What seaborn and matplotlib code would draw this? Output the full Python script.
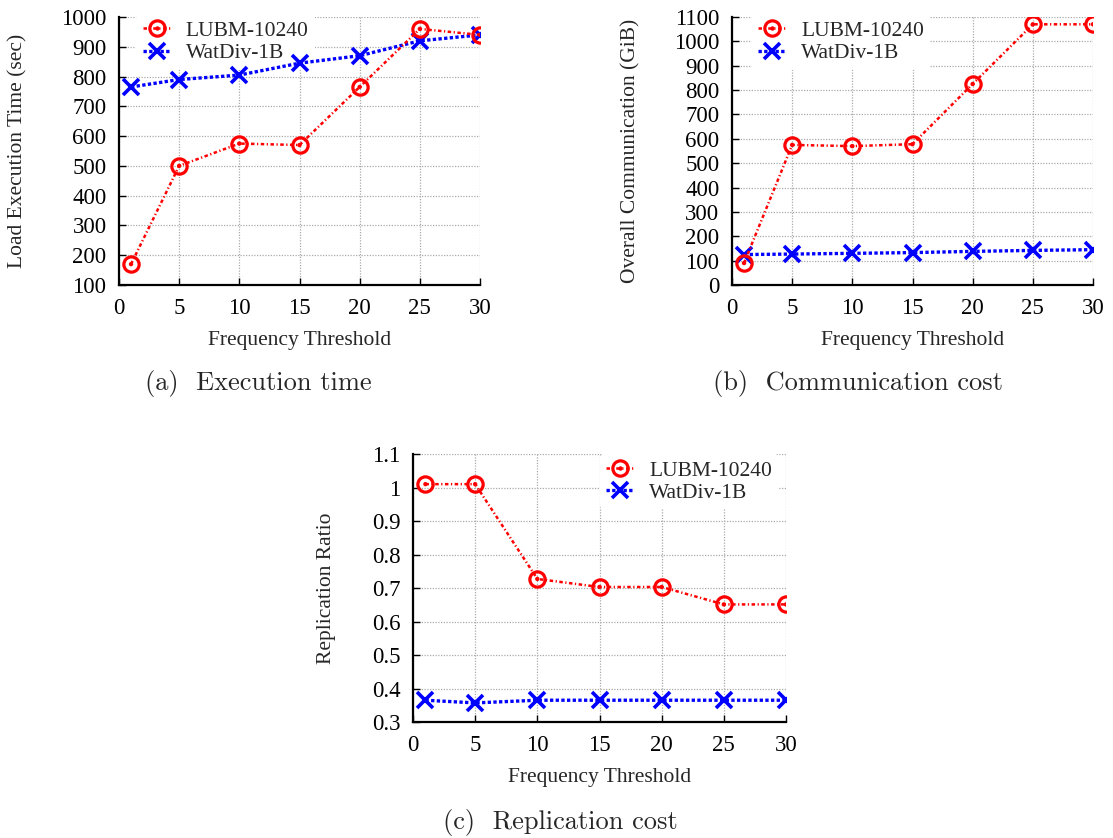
import numpy as np
import pandas as pd
import matplotlib
matplotlib.use("Agg")
import matplotlib.pyplot as plt
from matplotlib.lines import Line2D
from matplotlib.legend_handler import HandlerTuple
import seaborn as sns

thresholds = [1, 5, 10, 15, 20, 25, 30]
series_names = ["LUBM-10240", "WatDiv-1B"]

exec_lubm = [170, 500, 575, 570, 765, 960, 940]
exec_watdiv = [765, 790, 805, 845, 870, 920, 940]

comm_lubm = [90, 575, 570, 578, 825, 1070, 1070]
comm_watdiv = [125, 127, 130, 133, 138, 142, 145]

repl_lubm = [1.01, 1.01, 0.727, 0.703, 0.703, 0.651, 0.651]
repl_watdiv = [0.365, 0.357, 0.365, 0.365, 0.365, 0.365, 0.365]

xticks = [0, 5, 10, 15, 20, 25, 30]

sns.set_theme(style="white")
plt.rcParams['font.family'] = ['Liberation Serif', 'DejaVu Serif']
plt.rcParams['mathtext.fontset'] = 'cm'

W, H = 1113, 838
fig = plt.figure(figsize=(W / 100, H / 100), dpi=100)

RED = "#ff0000"
BLUE = "#0000ff"


def make_df(a, b):
    return pd.DataFrame({
        "x": thresholds * 2,
        "y": list(a) + list(b),
        "s": [series_names[0]] * len(a) + [series_names[1]] * len(b),
    })


def panel(rect_px, lubm, watdiv, ylim, yticks, ylabel, yfmt, legend_anchor, ylabelpad):
    l, t, r, b = rect_px
    ax = fig.add_axes([l / W, (H - b) / H, (r - l) / W, (b - t) / H])
    df = make_df(lubm, watdiv)
    d1 = df[df.s == series_names[0]]
    d2 = df[df.s == series_names[1]]
    sns.lineplot(data=d1, x="x", y="y", ax=ax, color=RED, lw=1.8,
                 linestyle=(0, (1.4, 1.0, 0.5, 1.0)), marker="o", markersize=11,
                 markerfacecolor="none", markeredgecolor=RED, markeredgewidth=2.3,
                 label=series_names[0], zorder=4)
    sns.scatterplot(data=d1, x="x", y="y", ax=ax, color=RED, s=10, marker="o",
                    edgecolor="none", zorder=5, legend=False)
    sns.lineplot(data=d2, x="x", y="y", ax=ax, color=BLUE, lw=2.4,
                 linestyle=(0, (1.0, 0.7)), marker="x", markersize=11,
                 markeredgecolor=BLUE, markeredgewidth=2.6,
                 label=series_names[1], zorder=3)
    ax.set_xlim(0, 30)
    ax.set_ylim(*ylim)
    ax.set_xticks(xticks)
    ax.set_yticks(yticks)
    ax.set_yticklabels([yfmt(v) for v in yticks])
    ax.tick_params(axis="both", direction="in", length=5, width=1, labelsize=16.5,
                   colors="black", pad=9, left=True, bottom=True)
    ax.grid(True, color="#aaaaaa", linestyle=(0, (1, 1.2)), linewidth=0.9)
    for s in ["top", "right"]:
        ax.spines[s].set_visible(False)
    for s in ["left", "bottom"]:
        ax.spines[s].set_color("black")
        ax.spines[s].set_linewidth(1.6)
    ax.set_xlabel("Frequency Threshold", fontsize=15.5, labelpad=9)
    ax.set_ylabel(ylabel, fontsize=15.5, labelpad=ylabelpad)
    handles, labels = ax.get_legend_handles_labels()
    dot = Line2D([], [], linestyle="none", marker="o", markersize=3.2,
                 markerfacecolor=RED, markeredgecolor="none")
    handles = [(handles[0], dot), handles[1]]
    leg = ax.legend(handles, labels, loc="upper left", bbox_to_anchor=legend_anchor,
                    fontsize=15.5, frameon=True, facecolor="white", edgecolor="none",
                    framealpha=1, handlelength=1.3, borderpad=0.3, labelspacing=0.1,
                    handletextpad=0.7, borderaxespad=0.0,
                    handler_map={tuple: HandlerTuple(ndivide=1)})
    leg.get_frame().set_linewidth(0)
    leg.set_zorder(2.5)
    return ax


def fmt_int(v):
    return f"{int(v)}"


def fmt_ratio(v):
    s = f"{v:.1f}"
    return "1" if s == "1.0" else s


ax1 = panel((119, 17, 480, 285), exec_lubm, exec_watdiv, (100, 1000),
            list(range(100, 1001, 100)), "Load Execution Time (sec)", fmt_int,
            (0.048, 1.01), 24)
ax2 = panel((732, 17, 1093, 285), comm_lubm, comm_watdiv, (0, 1100),
            list(range(0, 1101, 100)), "Overall Communication (GiB)", fmt_int,
            (0.054, 1.01), 24)
ax3 = panel((413, 454, 786, 722), repl_lubm, repl_watdiv, (0.3, 1.1),
            [round(0.3 + 0.1 * i, 1) for i in range(9)], "Replication Ratio", fmt_ratio,
            (0.50, 1.0), 26)

cap_kw = dict(fontsize=19, family="cmr10", ha="center", va="center")
fig.text(258 / W, 1 - 383 / H, "(a)  Execution time", **cap_kw)
fig.text(858 / W, 1 - 383 / H, "(b)  Communication cost", **cap_kw)
fig.text(560 / W, 1 - 822 / H, "(c)  Replication cost", **cap_kw)

fig.savefig("out.png", dpi=100)
